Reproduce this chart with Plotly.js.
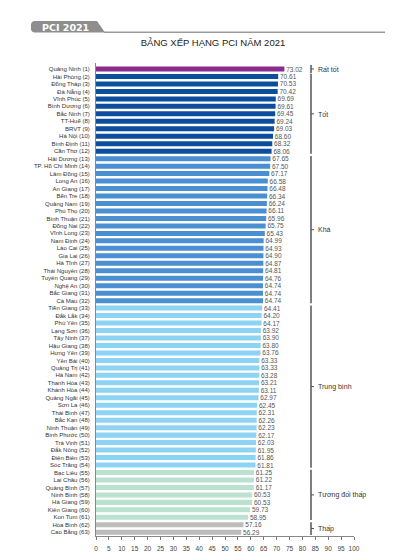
<!DOCTYPE html>
<html>
<head>
<meta charset="utf-8">
<script src="https://cdn.plot.ly/plotly-3.0.1.min.js"></script>
<style>html,body{margin:0;padding:0;background:#fff;}#chart{width:393px;height:558px;}</style>
</head>
<body>
<div id="chart"></div>
<script>
// ---- Data ----
const provinces = ["Quảng Ninh","Hải Phòng","Đồng Tháp","Đà Nẵng","Vĩnh Phúc","Bình Dương","Bắc Ninh","TT-Huế","BRVT","Hà Nội","Bình Định","Cần Thơ",
"Hải Dương","TP. Hồ Chí Minh","Lâm Đồng","Long An","An Giang","Bến Tre","Quảng Nam","Phú Thọ","Bình Thuận","Đồng Nai","Vĩnh Long","Nam Định","Lào Cai","Gia Lai","Hà Tĩnh","Thái Nguyên","Tuyên Quang","Nghệ An","Bắc Giang","Cà Mau",
"Tiền Giang","Đắk Lắk","Phú Yên","Lạng Sơn","Tây Ninh","Hậu Giang","Hưng Yên","Yên Bái","Quảng Trị","Hà Nam","Thanh Hóa","Khánh Hòa","Quảng Ngãi","Sơn La","Thái Bình","Bắc Kạn","Ninh Thuận","Bình Phước","Trà Vinh","Đắk Nông","Điện Biên","Sóc Trăng",
"Bạc Liêu","Lai Châu","Quảng Bình","Ninh Bình","Hà Giang","Kiên Giang","Kon Tum","Hòa Bình","Cao Bằng"];
const scores = [73.02,70.61,70.53,70.42,69.69,69.61,69.45,69.24,69.03,68.60,68.32,68.06,
67.65,67.50,67.17,66.58,66.48,66.34,66.24,66.11,65.96,65.75,65.43,64.99,64.93,64.90,64.87,64.81,64.76,64.74,64.74,64.74,
64.41,64.20,64.17,63.92,63.90,63.80,63.76,63.33,63.33,63.28,63.21,63.11,62.97,62.45,62.31,62.26,62.23,62.17,62.03,61.95,61.86,61.81,
61.25,61.22,61.17,60.53,60.53,59.73,58.95,57.16,56.29];
const groupNames = ["Rất tốt","Tốt","Khá","Trung bình","Tương đối thấp","Thấp"];
const groupLastRank = [1,12,32,54,61,63];
const groupColors = ["#8A2C8E","#0C4E9E","#4A8FD1","#8DD3F4","#BBE2D1","#BDBDBD"];
const xTicks = [0,5,10,15,20,25,30,35,40,45,50,55,60,65,70,75,80,85,90,95,100];

// ---- Build ----
const FONT = "'Liberation Sans Narrow','Arial Narrow','Liberation Sans',sans-serif";
const labels = provinces.map((p,i)=>p+" ("+(i+1)+")");
function groupOf(rank){ for(let g=0; g<groupLastRank.length; g++){ if(rank<=groupLastRank[g]) return g; } return groupLastRank.length-1; }
const colors = scores.map((v,i)=>groupColors[groupOf(i+1)]);

const W=393,H=558, L=96, R=39, T=63, B=22;
const pw=W-L-R, ph=H-T-B;
const px = x => (x-L)/pw;
const py = y => (H-B-y)/ph;

const shapes=[], annotations=[];
// bracket lines
const bx = px(311);
let start=1;
groupLastRank.forEach((end,g)=>{
  const pad = (end===start)?0.55:0.35;
  shapes.push({type:'line',xref:'paper',yref:'y',x0:bx,x1:bx,y0:start-1-pad,y1:end-1+pad,line:{color:'#555',width:1.5}});
  const mid=(start-1+end-1)/2;
  shapes.push({type:'line',xref:'paper',yref:'y',x0:bx,x1:bx+3/pw,y0:mid,y1:mid,line:{color:'#555',width:1}});
  annotations.push({xref:'paper',yref:'y',x:px(316),y:mid,text:groupNames[g],showarrow:false,xanchor:'left',yanchor:'middle',font:{family:FONT,size:7,color:'#333'}});
  start=end+1;
});
// header badge
function pathFromPx(pts){ return pts.map((p,i)=>(i?'L':'M')+px(p[0]).toFixed(5)+','+py(p[1]).toFixed(5)).join(' ')+' Z'; }
shapes.push({type:'path',xref:'paper',yref:'paper',path:pathFromPx([[34,21],[97,21],[105,32.5],[34,32.5],[32,31.5],[31,29.5],[31,24],[32,22],[34,21]]),fillcolor:'#8E8E8E',line:{width:0}});
shapes.push({type:'line',xref:'paper',yref:'paper',x0:px(104),x1:px(385),y0:py(32.3),y1:py(32.3),line:{color:'#9A9A9A',width:1.5}});
annotations.push({xref:'paper',yref:'paper',x:px(65),y:py(27),text:'<b>PCI 2021</b>',showarrow:false,xanchor:'center',yanchor:'middle',font:{family:"'DejaVu Sans',sans-serif",size:9.5,color:'#fff'}});

const trace = {
  type:'bar', orientation:'h', x:scores, y:labels,
  marker:{color:colors,line:{width:0}},
  text:scores.map(v=>'\u00A0'+v.toFixed(2)), textposition:'outside', cliponaxis:false, constraintext:'none',
  textfont:{family:FONT,size:6.5,color:'#555'}, hoverinfo:'x+y'
};

const layout = {
  width:W, height:H, margin:{l:L,r:R,t:T,b:B}, paper_bgcolor:'#fff', plot_bgcolor:'#fff',
  showlegend:false, bargap:0.33,
  title:{text:'BẢNG XẾP HẠNG PCI NĂM 2021', xref:'container', yref:'container', x:213/W, y:1-43/H, xanchor:'center', yanchor:'middle', font:{family:"'Liberation Sans',Arial,sans-serif",size:9.5,color:'#222'}},
  xaxis:{range:[0,100], tickvals:xTicks, ticktext:xTicks.map(String), showgrid:false, zeroline:false, showline:true, linecolor:'#888', linewidth:1,
         ticks:'outside', ticklen:3, tickcolor:'#777', tickfont:{family:FONT,size:6.5,color:'#444'}, ticklabelstandoff:3, fixedrange:true},
  yaxis:{type:'category', autorange:'reversed', tickmode:'array', tickvals:labels, ticktext:labels, showgrid:false, zeroline:false, showline:true, linecolor:'#888', linewidth:1,
         ticks:'', tickfont:{family:FONT,size:6,color:'#333'}, ticklabelstandoff:4, fixedrange:true},
  shapes:shapes, annotations:annotations
};
Plotly.newPlot('chart',[trace],layout,{displayModeBar:false,staticPlot:true});
</script>
</body>
</html>
